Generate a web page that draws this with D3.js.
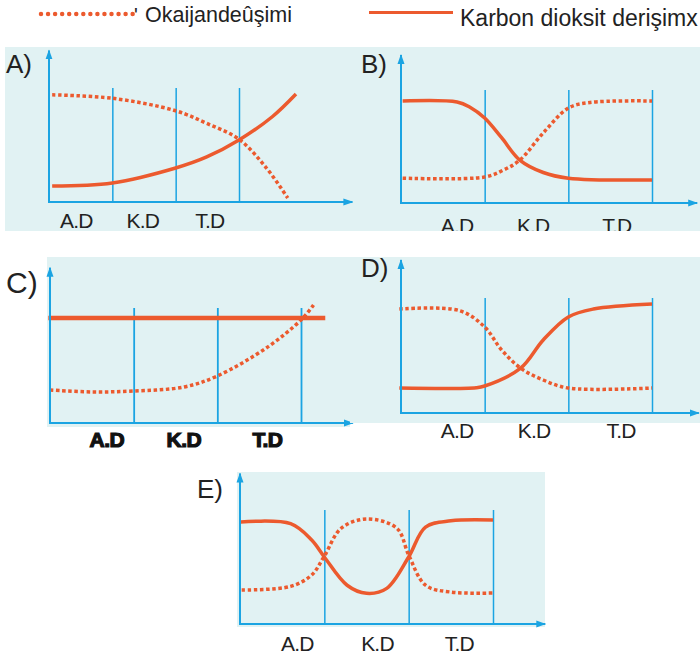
<!DOCTYPE html>
<html>
<head>
<meta charset="utf-8">
<script src="https://cdn.jsdelivr.net/npm/d3@7"></script>
<style>
  body { margin: 0; background: #fff; }
  svg { display: block; }
</style>
</head>
<body>
<div id="chart"></div>
<script>
// phase labels under every panel
var phases = ["A.D", "K.D", "T.D"];
var letters = ["A)", "B)", "C)", "D)", "E)"];
var legendLabels = ["Okaijandeûşimi", "Karbon dioksit derişim"];

// x = time (phase units), y = level (0-100)
var oxyA_x = [0.05, 1, 2, 2.49, 3, 3.43, 3.77];
var oxyA_y = [94, 91, 80, 69, 55, 30, 3.5];
var co2A_x = [0.05, 1, 2, 2.49, 3, 3.53, 3.9];
var co2A_y = [14, 16.7, 29.8, 39.5, 54.4, 75, 94.7];

var oxyB_x = [0.02, 1, 1.22, 1.42, 1.7, 2, 2.26, 3];
var oxyB_y = [22, 23, 29, 38, 62, 84, 89, 90.3];
var co2B_x = [0.02, 0.67, 0.82, 1, 1.2, 1.42, 1.7, 2, 3];
var co2B_y = [90.3, 89.4, 85, 75.2, 58, 38, 27, 22, 20.4];

var oxyC_x = [0, 0.5, 1, 1.6, 2, 2.6, 3, 3.15];
var oxyC_y = [28.7, 27, 27.8, 31.3, 40.9, 66, 89.6, 102.6];
var co2C_x = [-0.02, 3.29];
var co2C_y = [91.3, 91.3];

var oxyD_x = [-0.02, 0.7, 1, 1.2, 1.43, 1.7, 2, 3];
var oxyD_y = [90.4, 89, 74.8, 55, 39, 28.7, 21.7, 21.7];
var co2D_x = [-0.02, 0.9, 1, 1.43, 1.7, 2, 2.3, 3];
var co2D_y = [21.7, 22, 23.5, 39, 63.5, 83.5, 90.4, 94.8];

var oxyE_x = [0.02, 0.6, 0.85, 1, 1.2, 1.5, 1.86, 2, 2.2, 2.5, 3];
var oxyE_y = [29.8, 33, 43, 59.6, 84, 92.1, 84, 60.5, 34, 28, 27.2];
var co2E_x = [0.01, 0.6, 0.85, 1, 1.27, 1.5, 1.74, 2, 2.2, 2.5, 3];
var co2E_y = [89.5, 88, 73.7, 58.8, 34, 26.9, 31.3, 58.8, 85, 90.5, 91.2];

var oxySeries = [[oxyA_x, oxyA_y], [oxyB_x, oxyB_y], [oxyC_x, oxyC_y], [oxyD_x, oxyD_y], [oxyE_x, oxyE_y]];
var co2Series = [[co2A_x, co2A_y], [co2B_x, co2B_y], [co2C_x, co2C_y], [co2D_x, co2D_y], [co2E_x, co2E_y]];

// layout of each panel (pixels)
var panels = [
  { bg: [5, 47, 350, 184], x0: 49, x3: 239, y0: 202, y100: 88, xMax: 4.79, yMax: 133,
    letter: [6, 73, 26], labelY: 228, labelAt: [0.43, 1.48, 2.54], bold: false, clip: false, co2W: 3.5 },
  { bg: [355, 47, 345, 184], x0: 401, x3: 652, y0: 203, y100: 90, xMax: 3.54, yMax: 131,
    letter: [361, 73, 26], labelY: 233, labelAt: [0.67, 1.58, 2.58], bold: false, clip: true, co2W: 3.5 },
  { bg: [47, 257, 303, 170], x0: 50, x3: 301, y0: 423, y100: 308, xMax: 3.62, yMax: 135,
    letter: [6, 293, 30], labelY: 447, labelAt: [0.68, 1.6, 2.6], bold: true, clip: false, co2W: 4.5 },
  { bg: [350, 257, 350, 166], x0: 401, x3: 652, y0: 413, y100: 298, xMax: 3.56, yMax: 133,
    letter: [361, 277, 26], labelY: 438, labelAt: [0.67, 1.59, 2.63], bold: false, clip: false, co2W: 3.5 },
  { bg: [237, 472, 308, 155], x0: 240, x3: 493, y0: 624, y100: 510, xMax: 3.62, yMax: 132,
    letter: [197, 498, 26], labelY: 651, labelAt: [0.68, 1.63, 2.6], bold: false, clip: false, co2W: 3.5 }
];

var svgWidth = 700;
var svgHeight = 659;
var curveColor = "#ec5a2e";
var axisColor = "#1ba4e2";
var bgColor = "#e1f2f3";
var textColor = "#222";

var svg = d3.select("#chart").append("svg")
  .attr("width", svgWidth)
  .attr("height", svgHeight);

var defs = svg.append("defs");
defs.append("marker")
  .attr("id", "arrow")
  .attr("markerUnits", "userSpaceOnUse")
  .attr("viewBox", "0 0 10 10")
  .attr("refX", 9)
  .attr("refY", 5)
  .attr("markerWidth", 10)
  .attr("markerHeight", 10)
  .attr("orient", "auto")
  .append("path")
  .attr("d", "M0,1.5 L10,5 L0,8.5 Z")
  .attr("fill", axisColor);

// legend
var legend = svg.append("g");
legend.append("line")
  .attr("x1", 41).attr("x2", 133)
  .attr("y1", 14).attr("y2", 14)
  .attr("stroke", curveColor)
  .attr("stroke-width", 4.5)
  .attr("stroke-linecap", "round")
  .attr("stroke-dasharray", "0,7.05");
legend.append("text")
  .attr("x", 134).attr("y", 22)
  .attr("font-family", "Liberation Sans, Arial, sans-serif")
  .attr("font-size", 20)
  .attr("fill", textColor)
  .text("'");
legend.append("text")
  .attr("x", 145).attr("y", 22)
  .attr("font-family", "Liberation Sans, Arial, sans-serif")
  .attr("font-size", 21.5)
  .attr("fill", textColor)
  .text(legendLabels[0]);
legend.append("line")
  .attr("x1", 369).attr("x2", 453)
  .attr("y1", 12.5).attr("y2", 12.5)
  .attr("stroke", curveColor)
  .attr("stroke-width", 3);
legend.append("text")
  .attr("x", 460).attr("y", 26)
  .attr("font-family", "Liberation Sans, Arial, sans-serif")
  .attr("font-size", 23)
  .attr("fill", textColor)
  .text(legendLabels[1] + "x");

panels.forEach(function(p, i) {
  var g = svg.append("g");

  g.append("rect")
    .attr("x", p.bg[0]).attr("y", p.bg[1])
    .attr("width", p.bg[2]).attr("height", p.bg[3])
    .attr("fill", bgColor);

  if (p.clip) {
    defs.append("clipPath").attr("id", "clip" + i)
      .append("rect")
      .attr("x", p.bg[0]).attr("y", p.bg[1])
      .attr("width", p.bg[2]).attr("height", p.bg[3]);
  }

  var x = d3.scaleLinear().domain([0, 3]).range([p.x0, p.x3]);
  var y = d3.scaleLinear().domain([0, 100]).range([p.y0, p.y100]);

  // phase separators through the axis ticks
  var sepAxis = d3.axisBottom(x)
    .tickValues([1, 2, 3])
    .tickSizeInner(-(p.y0 - p.y100))
    .tickSizeOuter(0)
    .tickFormat("");
  var sep = g.append("g")
    .attr("transform", `translate(0, ${p.y0})`)
    .call(sepAxis);
  sep.select(".domain").remove();
  sep.selectAll(".tick line")
    .attr("stroke", axisColor)
    .attr("stroke-width", i == 2 ? 1.8 : 1.5);

  // curves
  var line = d3.line()
    .x(function(d) { return x(d[0]); })
    .y(function(d) { return y(d[1]); })
    .curve(d3.curveCatmullRom.alpha(0.5));

  var oxy = d3.zip(oxySeries[i][0], oxySeries[i][1]);
  var co2 = d3.zip(co2Series[i][0], co2Series[i][1]);

  g.append("path")
    .datum(co2)
    .attr("d", line)
    .attr("fill", "none")
    .attr("stroke", curveColor)
    .attr("stroke-width", p.co2W);

  g.append("path")
    .datum(oxy)
    .attr("d", line)
    .attr("fill", "none")
    .attr("stroke", curveColor)
    .attr("stroke-width", 3.5)
    .attr("stroke-dasharray", "3.5,2.6");

  // axes with arrows
  g.append("line")
    .attr("x1", x(0)).attr("y1", y(0))
    .attr("x2", x(p.xMax)).attr("y2", y(0))
    .attr("stroke", axisColor)
    .attr("stroke-width", 2)
    .attr("marker-end", "url(#arrow)");
  g.append("line")
    .attr("x1", x(0)).attr("y1", y(0) + 1)
    .attr("x2", x(0)).attr("y2", y(p.yMax))
    .attr("stroke", axisColor)
    .attr("stroke-width", 2)
    .attr("marker-end", "url(#arrow)");

  // panel letter
  g.append("text")
    .attr("x", p.letter[0]).attr("y", p.letter[1])
    .attr("font-family", "Liberation Sans, Arial, sans-serif")
    .attr("font-size", p.letter[2])
    .attr("fill", textColor)
    .text(letters[i]);

  // phase labels
  var labels = g.append("g");
  if (p.clip) labels.attr("clip-path", "url(#clip" + i + ")");
  labels.selectAll("text")
    .data(phases)
    .enter()
    .append("text")
    .attr("x", function(d, k) { return x(p.labelAt[k]); })
    .attr("y", p.labelY)
    .attr("text-anchor", "middle")
    .attr("font-family", "Liberation Sans, Arial, sans-serif")
    .attr("font-size", 21)
    .attr("font-weight", p.bold ? "bold" : "normal")
    .attr("stroke", p.bold ? "#111" : "none")
    .attr("stroke-width", p.bold ? 1.2 : 0)
    .attr("letter-spacing", p.bold ? -0.5 : -0.8)
    .attr("fill", p.bold ? "#111" : textColor)
    .text(function(d) { return d; });
});
</script>
</body>
</html>
